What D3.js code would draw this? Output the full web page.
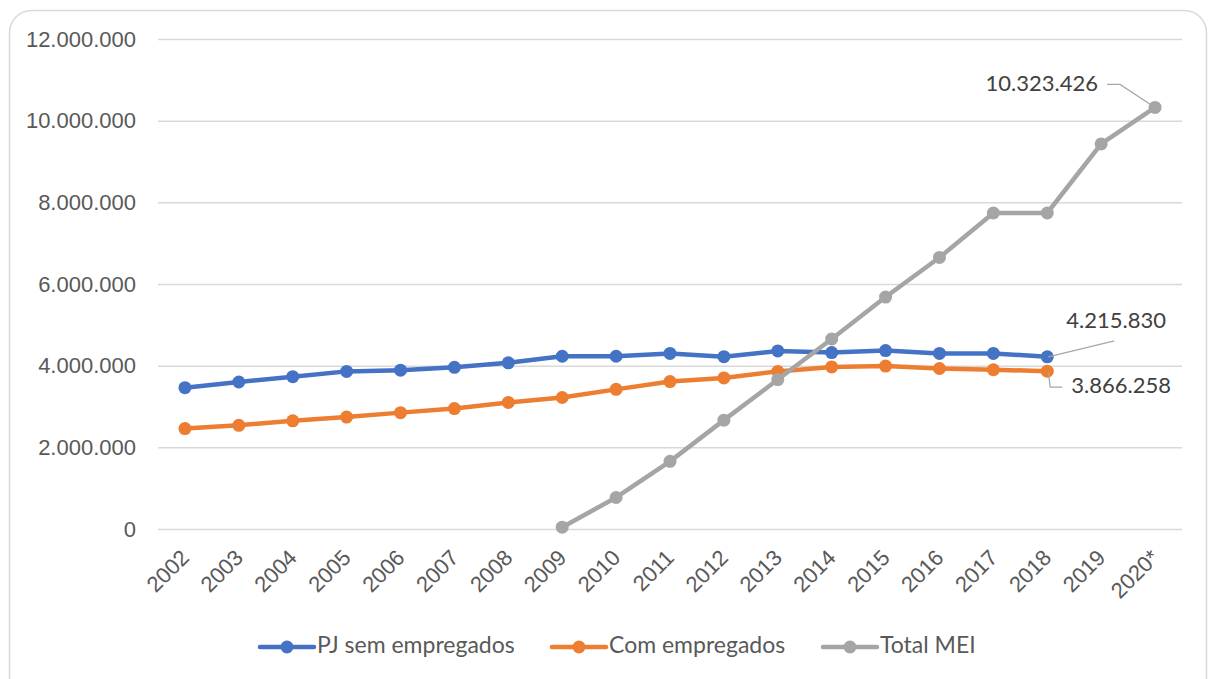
<!DOCTYPE html>
<html>
<head>
<meta charset="utf-8">
<script src="https://cdn.jsdelivr.net/npm/d3@7"></script>
<style>
  body { margin: 0; background: #fff; }
  svg { font-family: Lato, "Open Sans", sans-serif; }
  .tick text { fill: #595959; font-size: 22px; }
  .label { fill: #404040; font-size: 22px; }
  .legend text { fill: #595959; font-size: 23px; }
</style>
</head>
<body>
<svg id="drawing_region"></svg>
<script>
const years = ['2002','2003','2004','2005','2006','2007','2008','2009','2010','2011',
               '2012','2013','2014','2015','2016','2017','2018','2019','2020*'];
const pjSemEmpregados = [3460000, 3600000, 3730000, 3860000, 3890000, 3960000, 4070000, 4230000, 4230000, 4300000,
                         4220000, 4360000, 4320000, 4370000, 4300000, 4300000, 4215830, null, null];
const comEmpregados = [2460000, 2540000, 2650000, 2740000, 2850000, 2950000, 3100000, 3220000, 3420000, 3610000,
                       3700000, 3860000, 3970000, 3990000, 3930000, 3900000, 3866258, null, null];
const totalMei = [null, null, null, null, null, null, null, 44188, 771715, 1656953,
                  2665605, 3659781, 4653080, 5680614, 6649896, 7738590, 7738590, 9430438, 10323426];
const yTicks = [0, 2000000, 4000000, 6000000, 8000000, 10000000, 12000000];
const seriesNames = ['PJ sem empregados', 'Com empregados', 'Total MEI'];
const seriesColors = ['#4472C4', '#ED7D31', '#A5A5A5'];

const width = 1211, height = 679;
const margin = {top: 39, right: 29, bottom: 150, left: 158};

const svg = d3.select('#drawing_region')
    .attr('width', width)
    .attr('height', height);

// outer frame
svg.append('rect')
    .attr('x', 9.5).attr('y', 10.5)
    .attr('width', width - 14).attr('height', height + 20)
    .attr('rx', 22)
    .attr('fill', 'none')
    .attr('stroke', '#d9d9d9')
    .attr('stroke-width', 1.5);

const xscale = d3.scalePoint()
    .domain(years)
    .range([margin.left, width - margin.right])
    .padding(0.5);

const yscale = d3.scaleLinear()
    .domain([0, 12000000])
    .range([height - margin.bottom, margin.top]);

const br = d3.formatLocale({decimal: ',', thousands: '.', grouping: [3], currency: ['R$', '']});
const fmt = br.format(',d');

// y axis + gridlines
const yaxis = d3.axisLeft(yscale)
    .tickValues(yTicks)
    .tickSize(-(width - margin.right - margin.left))
    .tickPadding(22)
    .tickFormat(fmt);

const yaxis_group = svg.append('g')
    .attr('transform', `translate(${margin.left}, 0)`)
    .call(yaxis);
yaxis_group.select('.domain').remove();
yaxis_group.selectAll('.tick line')
    .attr('stroke', '#d9d9d9')
    .attr('stroke-width', 1.5);

// x axis
const xaxis = d3.axisBottom(xscale).tickSize(0).tickPadding(0);
const xaxis_group = svg.append('g')
    .attr('transform', `translate(0, ${yscale(0)})`)
    .call(xaxis);
xaxis_group.select('.domain').remove();
xaxis_group.selectAll('.tick text')
    .attr('text-anchor', 'end')
    .attr('dy', null)
    .attr('y', 0)
    .attr('transform', 'translate(5, 30) rotate(-45)');

// series
const series = [pjSemEmpregados, comEmpregados, totalMei];
const line = d3.line()
    .defined(d => d.v !== null)
    .x(d => xscale(d.year))
    .y(d => yscale(d.v));

series.forEach((values, i) => {
    const pts = values.map((v, j) => ({year: years[j], v: v}));
    svg.append('path')
        .datum(pts)
        .attr('d', line)
        .attr('fill', 'none')
        .attr('stroke', seriesColors[i])
        .attr('stroke-width', 4.5)
        .attr('stroke-linejoin', 'round');
    svg.append('g').selectAll('circle')
        .data(pts.filter(d => d.v !== null))
        .enter()
        .append('circle')
        .attr('cx', d => xscale(d.year))
        .attr('cy', d => yscale(d.v))
        .attr('r', 6.5)
        .attr('fill', seriesColors[i]);
});

// data labels with leader lines
const leader = (pts) => svg.append('polyline')
    .attr('points', pts.map(p => p.join(',')).join(' '))
    .attr('fill', 'none')
    .attr('stroke', '#a6a6a6')
    .attr('stroke-width', 1.2);

const xLast = xscale('2020*'), yLast = yscale(totalMei[18]);
leader([[xLast - 48, yLast - 23], [xLast - 35, yLast - 23], [xLast, yLast]]);
svg.append('text').attr('class', 'label')
    .attr('x', xLast - 57).attr('y', yLast - 22)
    .attr('text-anchor', 'end').attr('dominant-baseline', 'middle')
    .text(fmt(totalMei[18]));

const x18 = xscale('2018');
const yPj = yscale(pjSemEmpregados[16]), yCom = yscale(comEmpregados[16]);
leader([[x18 + 1, yPj], [x18 + 67, yPj - 16]]);
svg.append('text').attr('class', 'label')
    .attr('x', x18 + 19).attr('y', yPj - 34)
    .attr('dominant-baseline', 'middle')
    .text(fmt(pjSemEmpregados[16]));

leader([[x18 + 1, yCom + 1], [x18 + 3, yCom + 16], [x18 + 15, yCom + 16]]);
svg.append('text').attr('class', 'label')
    .attr('x', x18 + 24).attr('y', yCom + 16)
    .attr('dominant-baseline', 'middle')
    .text(fmt(comEmpregados[16]));

// legend
const legendX = [260, 552, 823];
const legend = svg.append('g').attr('class', 'legend');
seriesNames.forEach((name, i) => {
    const g = legend.append('g').attr('transform', `translate(${legendX[i]}, 647)`);
    g.append('line')
        .attr('x1', 0).attr('x2', 54)
        .attr('stroke', seriesColors[i])
        .attr('stroke-width', 4.5)
        .attr('stroke-linecap', 'round');
    g.append('circle').attr('cx', 27).attr('r', 6.5).attr('fill', seriesColors[i]);
    g.append('text')
        .attr('x', 57)
        .attr('dominant-baseline', 'middle')
        .text(name);
});
</script>
</body>
</html>
